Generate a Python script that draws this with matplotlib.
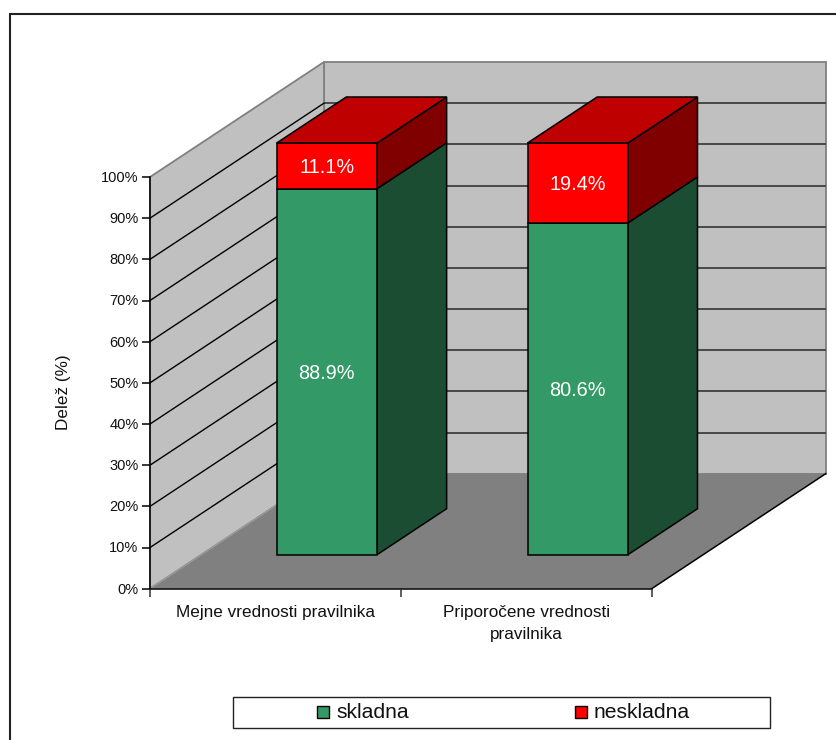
import matplotlib
matplotlib.use("Agg")
import matplotlib.pyplot as plt
from matplotlib.patches import Polygon, Rectangle

plt.rcParams["font.family"] = ["Liberation Sans", "DejaVu Sans"]

categories = ["Mejne vrednosti pravilnika", "Priporočene vrednosti\npravilnika"]
series_names = ["skladna", "neskladna"]
skladna = [88.9, 80.6]
neskladna = [11.1, 19.4]
y_ticks = [0, 10, 20, 30, 40, 50, 60, 70, 80, 90, 100]

W, H = 837, 740
PX_PER_CAT = 250.85
PX_PER_PCT = 4.117
X0, Y0 = 150, 588.7
DEPTH_X, DEPTH_Y = 174, 115
BAR_WIDTH = 0.4
BAR_D0, BAR_D1 = 34 / 115, 80 / 115

GREEN, GREEN_SIDE = "#339966", "#1b4d33"
RED, RED_TOP, RED_SIDE = "#ff0000", "#bf0000", "#800000"

fig = plt.figure(figsize=(W / 100, H / 100), dpi=100, facecolor="white")
ax = fig.add_axes([0, 0, 1, 1])
ax.set_xlim(-X0 / PX_PER_CAT, (W - X0) / PX_PER_CAT)
ax.set_ylim(-(H - Y0) / PX_PER_PCT, Y0 / PX_PER_PCT)
ax.axis("off")


def proj(cat, pct, depth=0.0):
    """Oblique projection of (category, percent, depth) onto the plane."""
    return cat + depth * DEPTH_X / PX_PER_CAT, pct + depth * DEPTH_Y / PX_PER_PCT


def px_x(v):
    return (v - X0) / PX_PER_CAT


def px_y(v):
    return (Y0 - v) / PX_PER_PCT


def face(points, fc, ec="black", lw=1.1, z=3):
    ax.add_patch(Polygon(points, closed=True, facecolor=fc, edgecolor=ec,
                         linewidth=lw, zorder=z, joinstyle="miter"))


n = len(categories)
top = y_ticks[-1]

# Back wall, side wall and floor
face([proj(0, 0, 1), proj(n, 0, 1), proj(n, top, 1), proj(0, top, 1)], "#c0c0c0", "#808080", 1.3, 1)
face([proj(0, 0, 0), proj(0, 0, 1), proj(0, top, 1), proj(0, top, 0)], "#c0c0c0", "#808080", 1.3, 1)
face([proj(0, 0, 0), proj(n, 0, 0), proj(n, 0, 1), proj(0, 0, 1)], "#808080", "none", 0, 1.2)
ax.plot(*zip(proj(0, 0, 0), proj(0, 0, 1)), color="#9a9a9a", lw=1.0, zorder=1.3)

# Gridlines across both walls
for t in y_ticks[1:-1]:
    x, y = zip(proj(0, t, 1), proj(n, t, 1))
    ax.plot(x, y, color="#484848", lw=1.4, zorder=1.5, solid_capstyle="butt")
    x, y = zip(proj(0, t, 0), proj(0, t, 1))
    ax.plot(x, y, color="black", lw=1.0, zorder=1.6)

# Axis lines and tick marks
ax.plot(*zip(proj(0, 0), proj(0, top)), color="black", lw=1.1, zorder=2)
ax.plot(*zip(proj(0, 0), proj(n, 0)), color="black", lw=1.1, zorder=2)
ax.plot(*zip(proj(n, 0), proj(n, 0, 1)), color="black", lw=1.1, zorder=2)
tick_len_x = 8 / PX_PER_CAT
tick_len_y = 8 / PX_PER_PCT
for t in y_ticks:
    ax.plot([-tick_len_x, 0], [t, t], color="black", lw=1.1, zorder=2, solid_capstyle="butt")
    ax.text(-11.5 / PX_PER_CAT, t - 0.2, f"{t}%", ha="right", va="center", fontsize=10.5, color="#111111")
for c in range(n + 1):
    ax.plot([c, c], [0, -tick_len_y], color="#333333", lw=1.1, zorder=2, solid_capstyle="butt")
for c, label in enumerate(categories):
    ax.text(c + 0.5, px_y(605), label, ha="center", va="top", fontsize=12.3,
            color="#111111", linespacing=1.62)

ax.text(px_x(64), px_y(392), "Delež (%)", rotation=90, ha="center", va="center",
        fontsize=12.3, color="#111111")

# Stacked 3D bars
for c in range(n):
    left = c + 0.5 - BAR_WIDTH / 2
    right = c + 0.5 + BAR_WIDTH / 2
    base = 0.0
    for values, front_c, side_c in ((skladna, GREEN, GREEN_SIDE),
                                    (neskladna, RED, RED_SIDE)):
        v = values[c]
        lo, hi = base, base + v
        face([proj(right, lo, BAR_D0), proj(right, lo, BAR_D1),
              proj(right, hi, BAR_D1), proj(right, hi, BAR_D0)], side_c, z=3)
        face([proj(left, lo, BAR_D0), proj(right, lo, BAR_D0),
              proj(right, hi, BAR_D0), proj(left, hi, BAR_D0)], front_c, z=3.2)
        tx, ty = proj(c + 0.5, (lo + hi) / 2, BAR_D0)
        ax.text(tx, ty - 0.4, f"{v:.1f}%", ha="center", va="center", color="white",
                fontsize=14.3, zorder=5)
        base = hi
    face([proj(left, base, BAR_D0), proj(right, base, BAR_D0),
          proj(right, base, BAR_D1), proj(left, base, BAR_D1)], RED_TOP, z=3.4)

# Outer chart frame, running off the canvas on the right and bottom
ax.add_patch(Rectangle((px_x(10), px_y(H + 20)), px_x(W + 20) - px_x(10), px_y(14) - px_y(H + 20),
                       facecolor="none", edgecolor="#222222", linewidth=1.5, zorder=0.5))

# Legend box with swatches
ax.add_patch(Rectangle((px_x(233.5), px_y(727.5)), px_x(770) - px_x(233.5), px_y(696.5) - px_y(727.5),
                       facecolor="white", edgecolor="#222222", linewidth=1.0, zorder=6))
for name, color, sx, tx in zip(series_names, (GREEN, RED), (317.5, 575.5), (336.5, 593.5)):
    ax.add_patch(Rectangle((px_x(sx), px_y(718)), 12 / PX_PER_CAT, 12 / PX_PER_PCT,
                           facecolor=color, edgecolor="black", linewidth=1.0, zorder=7))
    ax.text(px_x(tx), px_y(712), name, ha="left", va="center", fontsize=15.2, color="#111111", zorder=7)

fig.savefig("out.png", dpi=100, facecolor="white")
